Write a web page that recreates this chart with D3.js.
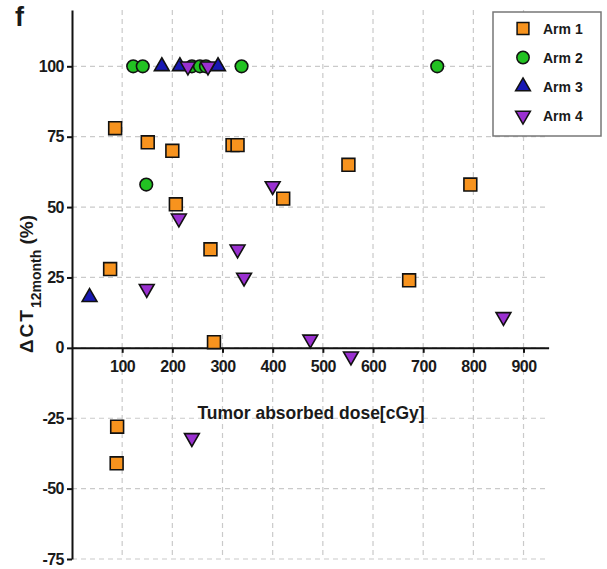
<!DOCTYPE html>
<html><head><meta charset="utf-8">
<script src="https://cdn.jsdelivr.net/npm/d3@7"></script>
<style>body{margin:0;background:#fff}svg{display:block}text{font-family:"Liberation Sans",Arial,sans-serif;font-weight:bold;fill:#1a1a1a}</style>
</head><body>
<script>
const xTicks = [100,200,300,400,500,600,700,800,900];
const yTicks = [-75,-50,-25,0,25,50,75,100];
const seriesNames = ["Arm 1","Arm 2","Arm 3","Arm 4"];
const arm1X = [86,151,200,320,330,421,207,276,76,283,551,794,672,90,89];
const arm1Y = [78,73,70,72,72,53,51,35,28,2,65,58,24,-28,-41];
const arm2X = [122,141,239,255,267,338,728,148];
const arm2Y = [100,100,100,100,100,100,100,58];
const arm3X = [179,215,291,35];
const arm3Y = [100,100,100,18];
const arm4X = [231,271,400,213,330,343,149,475,556,860,239];
const arm4Y = [100,100,57.5,46,35,25,21,3,-3,11,-32];
const colors = ["#f7931e","#22c222","#1818b4","#9a30d0"];

const W=607,H=569;
const svg=d3.select("body").append("svg").attr("width",W).attr("height",H);
const x=d3.scaleLinear().domain([0,950]).range([72,548.6]);
const y=d3.scaleLinear().domain([-75,120]).range([559,10]);

// grid
const g=svg.append("g");
g.selectAll(".vg").data(xTicks).join("line").attr("x1",d=>x(d)).attr("x2",d=>x(d)).attr("y1",y(120)).attr("y2",y(-75))
 .attr("stroke","#cacaca").attr("stroke-width",1.2).attr("stroke-dasharray","5,4");
g.selectAll(".hg").data(yTicks).join("line").attr("x1",x(0)).attr("x2",x(950)).attr("y1",d=>y(d)).attr("y2",d=>y(d))
 .attr("stroke","#cacaca").attr("stroke-width",1.2).attr("stroke-dasharray","5,4");

// axes
const ya=svg.append("g").attr("transform",`translate(${x(0)},0)`)
 .call(d3.axisLeft(y).tickValues(yTicks).tickSize(5).tickSizeOuter(0).tickPadding(3).tickFormat(d=>String(d)));
const xa=svg.append("g").attr("transform",`translate(0,${y(0)})`)
 .call(d3.axisBottom(x).tickValues(xTicks).tickSize(5).tickSizeOuter(0).tickPadding(8).tickFormat(d=>String(d)));
[ya,xa].forEach(a=>{
  a.select(".domain").attr("stroke","#111").attr("stroke-width",2);
  a.selectAll(".tick line").attr("stroke","#111").attr("stroke-width",2);
  a.selectAll(".tick text").attr("font-size",16).attr("letter-spacing",-0.5).attr("font-family","Liberation Sans, Arial, sans-serif").attr("font-weight","bold").attr("fill","#1a1a1a");
});

// symbols
const triUp=d3.symbol().type(d3.symbolTriangle).size(95);
const shapes=[d3.symbol().type(d3.symbolSquare).size(165)(),
  d3.symbol().type(d3.symbolCircle).size(125)(),
  triUp(), triUp()];
const rot=[0,0,0,180];
const data=[[arm1X,arm1Y],[arm2X,arm2Y],[arm3X,arm3Y],[arm4X,arm4Y]];
data.forEach(([xs,ys],i)=>{
  svg.append("g").selectAll("path").data(xs.map((v,j)=>[v,ys[j]])).join("path")
   .attr("d",shapes[i]).attr("transform",d=>`translate(${x(d[0])},${y(d[1])}) rotate(${rot[i]})`)
   .attr("fill",colors[i]).attr("stroke","#111").attr("stroke-width",1.6);
});

// titles
svg.append("text").attr("x",311).attr("y",419).attr("text-anchor","middle").attr("font-size",17.5).text("Tumor absorbed dose[cGy]");
const yt=svg.append("text").attr("transform","translate(33,284) rotate(-90)").attr("text-anchor","middle").attr("font-size",19);
yt.append("tspan").attr("letter-spacing",2).text("ΔCT");
yt.append("tspan").attr("font-size",14).attr("dy",8).text("12month");
yt.append("tspan").attr("dy",-8).text(" (%)");
svg.append("text").attr("x",15).attr("y",26).attr("font-size",27).text("f");

// legend
const lg=svg.append("g");
lg.append("rect").attr("x",493).attr("y",12).attr("width",108).attr("height",124).attr("fill","#fff").attr("stroke","#777").attr("stroke-width",1.5);
const lsh=[d3.symbol().type(d3.symbolSquare).size(140)(),d3.symbol().type(d3.symbolCircle).size(120)(),triUp(),triUp()];
seriesNames.forEach((n,i)=>{
  const yy=28.5+i*29;
  lg.append("path").attr("d",lsh[i]).attr("transform",`translate(523,${yy}) rotate(${rot[i]})`).attr("fill",colors[i]).attr("stroke","#111").attr("stroke-width",1.5);
  lg.append("text").attr("x",543).attr("y",yy+5).attr("font-size",14).text(n);
});
</script>
</body></html>
